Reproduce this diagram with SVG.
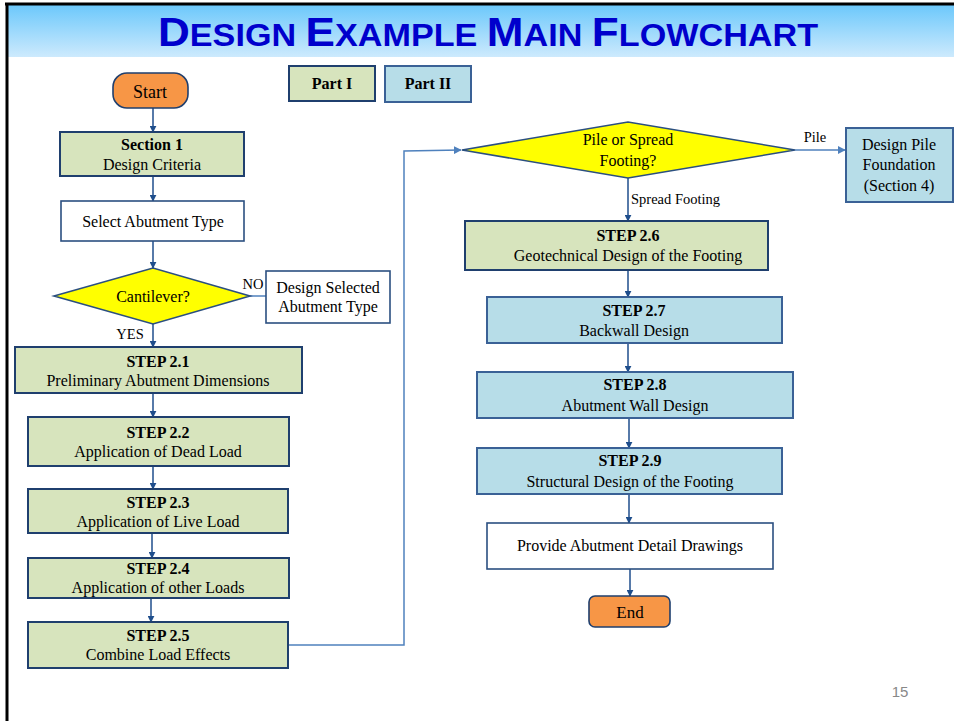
<svg xmlns="http://www.w3.org/2000/svg" width="954" height="721" viewBox="0 0 954 721">
  <defs>
    <linearGradient id="band" x1="0" y1="0" x2="0" y2="1">
      <stop offset="0" stop-color="#6cc8fb"/>
      <stop offset="1" stop-color="#cdeafd"/>
    </linearGradient>
    <marker id="arr" viewBox="0 0 10 10" refX="9" refY="5" markerWidth="7" markerHeight="7" markerUnits="userSpaceOnUse" orient="auto">
      <path d="M0,0 L10,5 L0,10 z" fill="#1f4e8c"/>
    </marker>
    <marker id="arrL" viewBox="0 0 10 10" refX="9" refY="5" markerWidth="8" markerHeight="8" markerUnits="userSpaceOnUse" orient="auto">
      <path d="M0,0 L10,5 L0,10 z" fill="#4f81bd"/>
    </marker>
  </defs>
  <style>
    text { font-family: "Liberation Serif", "Times New Roman", serif; font-size: 16px; fill: #000; text-anchor: middle; }
    .b { font-weight: bold; }
    .green { fill: #d7e4bd; stroke: #1f3f6e; stroke-width: 2; }
    .blue { fill: #b7dde8; stroke: #3a6196; stroke-width: 2; }
    .white { fill: #fff; stroke: #2b4f80; stroke-width: 1.6; }
    .term { fill: #f79646; stroke: #1f3f6e; stroke-width: 1.6; }
    .dia { fill: #ffff00; stroke: #2b4f80; stroke-width: 1.6; }
    .conn { fill: none; stroke: #1f4e8c; stroke-width: 1.5; }
    .connL { fill: none; stroke: #4f81bd; stroke-width: 1.5; }
    .lbl { font-size: 14.5px; }
  </style>

  <!-- slide frame and title band -->
  <rect x="0" y="0" width="954" height="721" fill="#fff"/>
  <rect x="7" y="5" width="947" height="52" fill="url(#band)"/>
  <line x1="5" y1="4" x2="954" y2="4" stroke="#000" stroke-width="3"/>
  <line x1="7" y1="3" x2="7" y2="721" stroke="#000" stroke-width="3"/>
  <text x="488" y="46" textLength="660" lengthAdjust="spacingAndGlyphs" style="font-family:'Liberation Sans',Arial,sans-serif;font-weight:bold;fill:#0000cc;font-size:31px;">
    <tspan style="font-size:40px">D</tspan>ESIGN <tspan style="font-size:40px">E</tspan>XAMPLE <tspan style="font-size:40px">M</tspan>AIN <tspan style="font-size:40px">F</tspan>LOWCHART</text>

  <!-- connectors -->
  <g id="connectors">
    <line class="conn" x1="153" y1="108" x2="153" y2="132" marker-end="url(#arr)"/>
    <line class="conn" x1="153" y1="176" x2="153" y2="201" marker-end="url(#arr)"/>
    <line class="conn" x1="153" y1="241" x2="153" y2="268" marker-end="url(#arr)"/>
    <line class="connL" x1="250" y1="296" x2="266" y2="296"/>
    <line class="conn" x1="153" y1="324" x2="153" y2="347" marker-end="url(#arr)"/>
    <line class="conn" x1="153" y1="393" x2="153" y2="417" marker-end="url(#arr)"/>
    <line class="conn" x1="153" y1="466" x2="153" y2="489" marker-end="url(#arr)"/>
    <line class="conn" x1="152" y1="533" x2="152" y2="558" marker-end="url(#arr)"/>
    <line class="conn" x1="151" y1="598" x2="151" y2="622" marker-end="url(#arr)"/>
    <polyline class="connL" points="288,645 404,645 404,151 461,150" marker-end="url(#arrL)"/>
    <line class="connL" x1="795" y1="150" x2="845" y2="150" marker-end="url(#arrL)"/>
    <line class="conn" x1="628" y1="178" x2="628" y2="221" marker-end="url(#arr)"/>
    <line class="conn" x1="628" y1="270" x2="628" y2="297" marker-end="url(#arr)"/>
    <line class="conn" x1="628" y1="343" x2="628" y2="372" marker-end="url(#arr)"/>
    <line class="conn" x1="629" y1="418" x2="629" y2="448" marker-end="url(#arr)"/>
    <line class="conn" x1="629" y1="494" x2="629" y2="523" marker-end="url(#arr)"/>
    <line class="conn" x1="630" y1="569" x2="630" y2="596" marker-end="url(#arr)"/>
    <text class="lbl" x="253" y="289">NO</text>
    <text class="lbl" x="130" y="339">YES</text>
    <text class="lbl" x="815" y="142">Pile</text>
    <text class="lbl" x="631" y="204" style="text-anchor:start">Spread Footing</text>
  </g>

  <!-- legend -->
  <g id="legend-part1"><rect class="green" x="289" y="66" width="86" height="35"/><text class="b" x="332" y="89">Part I</text></g>
  <g id="legend-part2"><rect class="blue" x="385" y="66" width="86" height="36"/><text class="b" x="428" y="89">Part II</text></g>

  <!-- left column -->
  <g id="start"><rect class="term" x="113" y="73" width="75" height="35" rx="14"/><text x="150" y="98" style="font-size:18px">Start</text></g>
  <g id="section1"><rect class="green" x="60" y="132" width="184" height="44"/><text class="b" x="152" y="150">Section 1</text><text x="152" y="170">Design Criteria</text></g>
  <g id="select-type"><rect class="white" x="61" y="201" width="183" height="40"/><text x="153" y="227">Select Abutment Type</text></g>
  <g id="cantilever"><polygon class="dia" points="54,296 153,268 250,296 153,324"/><text x="153" y="302">Cantilever?</text></g>
  <g id="design-selected"><rect class="white" x="266" y="271" width="124" height="52"/><text x="328" y="293">Design Selected</text><text x="328" y="312">Abutment Type</text></g>
  <g id="step21"><rect class="green" x="15" y="347" width="287" height="46"/><text class="b" x="158" y="367">STEP 2.1</text><text x="158" y="386">Preliminary Abutment Dimensions</text></g>
  <g id="step22"><rect class="green" x="28" y="417" width="261" height="49"/><text class="b" x="158" y="438">STEP 2.2</text><text x="158" y="457">Application of Dead Load</text></g>
  <g id="step23"><rect class="green" x="28" y="489" width="260" height="44"/><text class="b" x="158" y="508">STEP 2.3</text><text x="158" y="527">Application of Live Load</text></g>
  <g id="step24"><rect class="green" x="28" y="558" width="261" height="40"/><text class="b" x="158" y="574">STEP 2.4</text><text x="158" y="593">Application of other Loads</text></g>
  <g id="step25"><rect class="green" x="28" y="622" width="260" height="46"/><text class="b" x="158" y="641">STEP 2.5</text><text x="158" y="660">Combine Load Effects</text></g>

  <!-- right column -->
  <g id="pile-or-spread"><polygon class="dia" points="462,150 628,122 795,150 628,178"/><text x="628" y="145">Pile or Spread</text><text x="628" y="166">Footing?</text></g>
  <g id="design-pile"><rect class="blue" x="846" y="128" width="107" height="74"/><text x="899" y="150">Design Pile</text><text x="899" y="170">Foundation</text><text x="899" y="191">(Section 4)</text></g>
  <g id="step26"><rect class="green" x="465" y="221" width="303" height="49"/><text class="b" x="628" y="241">STEP 2.6</text><text x="628" y="261">Geotechnical Design of the Footing</text></g>
  <g id="step27"><rect class="blue" x="487" y="297" width="295" height="46"/><text class="b" x="634" y="316">STEP 2.7</text><text x="634" y="336">Backwall Design</text></g>
  <g id="step28"><rect class="blue" x="477" y="372" width="316" height="46"/><text class="b" x="635" y="390">STEP 2.8</text><text x="635" y="411">Abutment Wall Design</text></g>
  <g id="step29"><rect class="blue" x="477" y="448" width="305" height="46"/><text class="b" x="630" y="466">STEP 2.9</text><text x="630" y="487">Structural Design of the Footing</text></g>
  <g id="drawings"><rect class="white" x="487" y="523" width="286" height="46"/><text x="630" y="551">Provide Abutment Detail Drawings</text></g>
  <g id="end"><rect class="term" x="589" y="596" width="81" height="31" rx="6"/><text x="630" y="618" style="font-size:17px">End</text></g>

  <text x="900" y="697" style="font-family:'Liberation Sans',Arial,sans-serif;font-size:15px;fill:#888">15</text>
</svg>
